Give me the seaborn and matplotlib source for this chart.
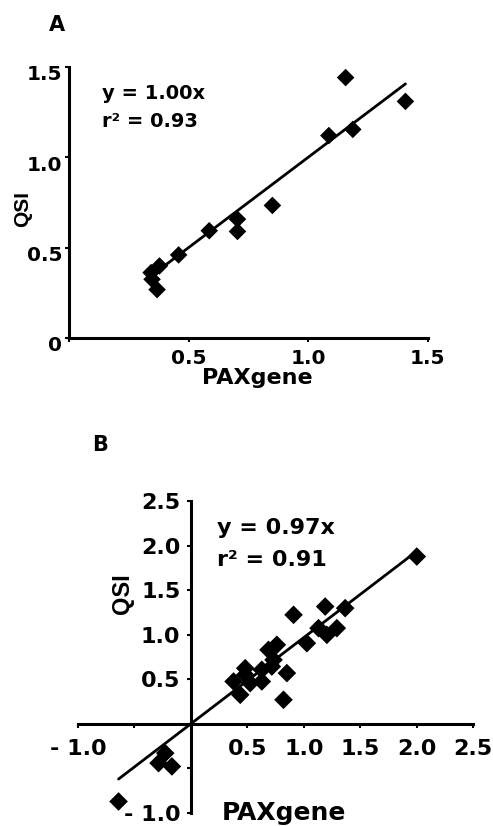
import numpy as np
import matplotlib
matplotlib.use("Agg")
import matplotlib.pyplot as plt
import matplotlib.transforms as mtransforms
import seaborn as sns

# Panel A data (PAXgene vs QSI)
pax_a = [1.156, 1.406, 1.086, 1.186, 0.850, 0.704, 0.704, 0.586, 0.458, 0.378, 0.343, 0.347, 0.368]
qsi_a = [1.441, 1.309, 1.120, 1.154, 0.733, 0.657, 0.589, 0.593, 0.459, 0.398, 0.361, 0.324, 0.267]
slope_a = 1.00
r2_a = 0.93

# Panel B data
pax_b = [2.000, 1.366, 1.189, 0.909, 1.130, 1.292, 1.204, 1.027, 0.761, 0.687, 0.732, 0.717,
         0.628, 0.628, 0.481, 0.481, 0.525, 0.378, 0.437, 0.850, 0.820, -0.227, -0.286, -0.168, -0.640]
qsi_b = [1.880, 1.300, 1.318, 1.225, 1.075, 1.075, 1.000, 0.906, 0.888, 0.831, 0.719, 0.644,
         0.607, 0.476, 0.625, 0.551, 0.457, 0.476, 0.326, 0.570, 0.270, -0.330, -0.442, -0.479, -0.873]
slope_b = 0.97
r2_b = 0.91

ticks_a = [0, 0.5, 1.0, 1.5]
xlabels_a = ["", "0.5", "1.0", "1.5"]
ylabels_a = ["0", "0.5", "1.0", "1.5"]
ticks_b = [-1.0, -0.5, 0, 0.5, 1.0, 1.5, 2.0, 2.5]
labels_b = ["- 1.0", "", "", "0.5", "1.0", "1.5", "2.0", "2.5"]

sns.set_style("ticks")
plt.rcParams['font.family'] = ['DejaVu Sans']
plt.rcParams['font.weight'] = 'bold'
plt.rcParams['text.color'] = 'black'

fig = plt.figure(figsize=(4.93, 8.26), dpi=100)
ax_a = fig.add_axes([0.140, 0.591, 0.728, 0.328])
ax_b = fig.add_axes([0.158, 0.016, 0.802, 0.377])

for ax in (ax_a, ax_b):
    for s in ("top", "right"):
        ax.spines[s].set_visible(False)
    for s in ("left", "bottom"):
        ax.spines[s].set_linewidth(2.2)
        ax.spines[s].set_color("black")
    ax.tick_params(width=1.5, length=3, colors="black")

# Panel A
sns.scatterplot(x=pax_a, y=qsi_a, marker="D", color="black", s=80, edgecolor="none", ax=ax_a)
xa = np.array([min(pax_a), max(pax_a)])
sns.lineplot(x=xa, y=slope_a * xa, color="black", linewidth=2, ax=ax_a)
ax_a.set_xlim(0, 1.5)
ax_a.set_ylim(0, 1.5)
ax_a.set_xticks(ticks_a)
ax_a.set_xticklabels(xlabels_a, fontsize=14.5, fontweight="bold")
ax_a.set_yticks(ticks_a)
ax_a.set_yticklabels(ylabels_a, fontsize=14.5, fontweight="bold")
ax_a.tick_params(axis="x", pad=5)
ax_a.tick_params(axis="y", pad=2)
shift = mtransforms.ScaledTranslation(0, -0.06, fig.dpi_scale_trans)
for lab in ax_a.get_yticklabels():
    lab.set_transform(lab.get_transform() + shift)
ax_a.text(0.137, 1.35, f"y = {slope_a:.2f}x", fontsize=14, fontweight="bold", va="center")
ax_a.text(0.137, 1.20, f"r² = {r2_a:.2f}", fontsize=14, fontweight="bold", va="center")
ax_a.text(-0.128, 0.476, "QSI", transform=ax_a.transAxes, rotation=90, fontsize=15,
          fontweight="bold", family="Liberation Sans", ha="center", va="center")
ax_a.text(0.526, -0.148, "PAXgene", transform=ax_a.transAxes, fontsize=16,
          fontweight="bold", ha="center", va="center")

# Panel B
sns.scatterplot(x=pax_b, y=qsi_b, marker="D", color="black", s=90, edgecolor="none", ax=ax_b)
xb = np.array([min(pax_b), max(pax_b)])
sns.lineplot(x=xb, y=slope_b * xb, color="black", linewidth=2, ax=ax_b)
ax_b.set_xlim(-1.0, 2.5)
ax_b.set_ylim(-1.0, 2.5)
ax_b.spines["left"].set_position(("data", 0))
ax_b.spines["bottom"].set_position(("data", 0))
ax_b.set_xticks(ticks_b)
ax_b.set_xticklabels(labels_b, fontsize=16, fontweight="bold")
ax_b.set_yticks(ticks_b)
ax_b.set_yticklabels(labels_b, fontsize=16, fontweight="bold")
ax_b.tick_params(axis="x", pad=8)
ax_b.tick_params(axis="y", pad=4.5)
ax_b.text(0.23, 2.20, f"y = {slope_b:.2f}x", fontsize=16, fontweight="bold", va="center")
ax_b.text(0.23, 1.84, f"r² = {r2_b:.2f}", fontsize=16, fontweight="bold", va="center")
ax_b.text(0.112, 0.705, "QSI", transform=ax_b.transAxes, rotation=90, fontsize=17,
          fontweight="bold", family="Liberation Sans", ha="center", va="center")
ax_b.text(0.52, 0.0, "PAXgene", transform=ax_b.transAxes, fontsize=18,
          fontweight="bold", ha="center", va="center")

fig.text(0.116, 0.970, "A", fontsize=15, fontweight="bold", ha="center", va="center")
fig.text(0.203, 0.461, "B", fontsize=15, fontweight="bold", ha="center", va="center")

fig.savefig("out.png", dpi=100)
